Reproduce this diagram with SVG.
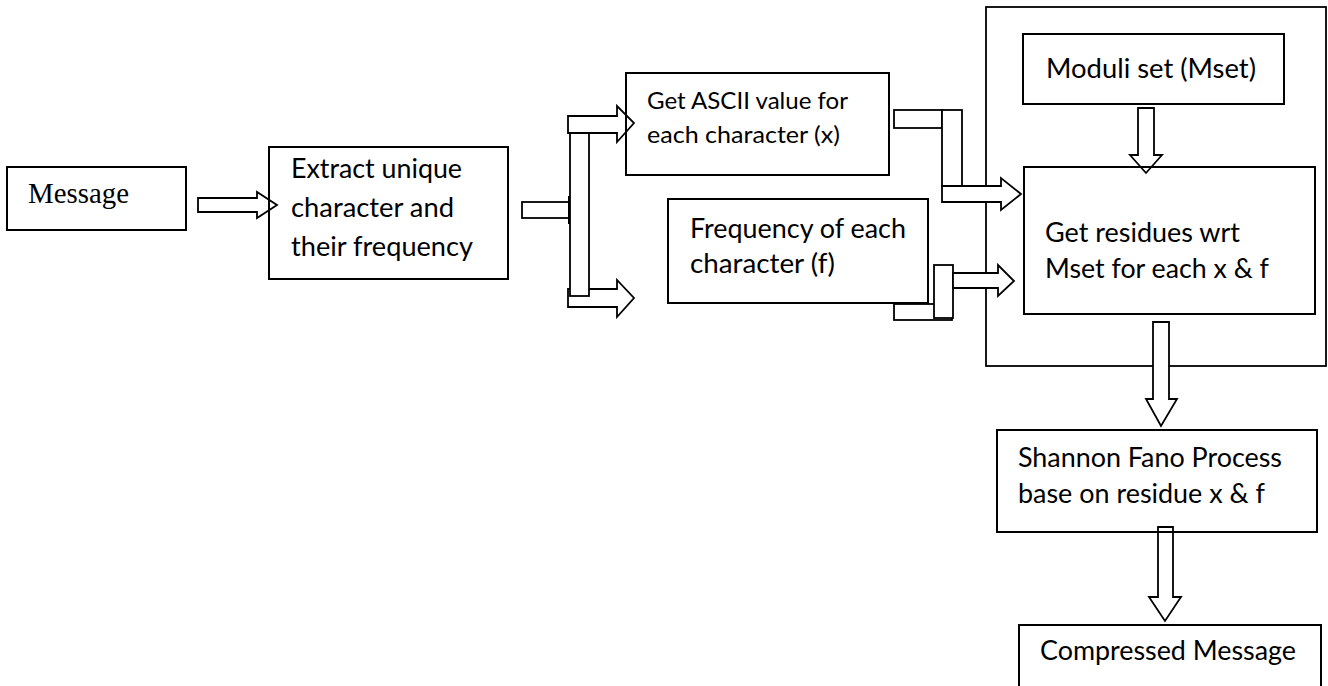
<svg xmlns="http://www.w3.org/2000/svg" width="1328" height="686" viewBox="0 0 1328 686">
<style>
.box{fill:none;stroke:#000;stroke-width:2}
.frame{fill:#fff;stroke:#000;stroke-width:1.8}
.arr{fill:#fff;stroke:#000;stroke-width:1.8;stroke-linejoin:miter}
.t{font-family:Lato,"Liberation Sans",sans-serif;font-size:26px;fill:#000}
.ts{font-size:24px}
.serif{font-family:"Liberation Serif","Times New Roman",serif;font-size:29px;fill:#000}
</style>
<rect width="1328" height="686" fill="#fff"/>
<g id="outer-frame">
<rect class="frame" x="986" y="7" width="340" height="359"/>
</g>
<g id="connectors">
<polygon class="arr" points="198,198 257,198 257,192 277,205 257,218 257,212 198,212"/>
<rect class="arr" x="522" y="202" width="47" height="16"/>
<line x1="569.5" y1="196" x2="569.5" y2="224" stroke="#000" stroke-width="3"/>
<polygon class="arr" points="568,289 617,289 617,280 634,298 617,317 617,307 568,307"/>
<rect class="arr" x="570" y="125" width="19" height="171"/>
<polygon class="arr" points="568,116 617,116 617,106 634,123 617,142 617,133 568,133"/>
<rect class="arr" x="894" y="110" width="48" height="18"/>
<rect class="arr" x="942" y="110" width="20" height="76"/>
<polygon class="arr" points="942,186 1001,186 1001,178 1021,194 1001,210 1001,202 942,202"/>
<rect class="arr" x="894" y="304" width="58" height="16"/>
<rect class="arr" x="934" y="265" width="19" height="53"/>
<polygon class="arr" points="953,273 998,273 998,265 1014,281 998,296 998,288 953,288"/>
<polygon class="arr" points="1138,108 1154,108 1154,155 1162,155 1146,173 1130,155 1138,155"/>
<polygon class="arr" points="1153,322 1169,322 1169,399 1177,399 1161,426 1146,399 1153,399"/>
<polygon class="arr" points="1158,527 1173,527 1173,597 1181,597 1165,621 1149,597 1158,597"/>
</g>
<g id="message">
<rect class="box" x="7" y="167" width="179" height="63"/>
<text class="serif" x="28" y="203" textLength="101" lengthAdjust="spacingAndGlyphs">Message</text>
</g>
<g id="extract">
<rect class="box" x="269" y="147" width="239" height="132"/>
<text class="t" x="291" y="178" textLength="171" lengthAdjust="spacingAndGlyphs">Extract unique</text>
<text class="t" x="291" y="217" textLength="163" lengthAdjust="spacingAndGlyphs">character and</text>
<text class="t" x="291" y="256" textLength="182" lengthAdjust="spacingAndGlyphs">their frequency</text>
</g>
<g id="ascii">
<rect class="box" x="626" y="73" width="263" height="102"/>
<text class="t ts" x="647" y="109" textLength="201" lengthAdjust="spacingAndGlyphs">Get ASCII value for</text>
<text class="t ts" x="647" y="143" textLength="193" lengthAdjust="spacingAndGlyphs">each character (x)</text>
</g>
<g id="frequency">
<rect class="box" x="668" y="199" width="260" height="104"/>
<text class="t" x="690" y="238" textLength="216" lengthAdjust="spacingAndGlyphs">Frequency of each</text>
<text class="t" x="690" y="273" textLength="145" lengthAdjust="spacingAndGlyphs">character (f)</text>
</g>
<g id="moduli">
<rect class="box" x="1023" y="34" width="261" height="70"/>
<text class="t" x="1046" y="78" textLength="210" lengthAdjust="spacingAndGlyphs">Moduli set (Mset)</text>
</g>
<g id="residues">
<rect class="box" x="1024" y="167" width="291" height="147"/>
<text class="t" x="1045" y="242" textLength="195" lengthAdjust="spacingAndGlyphs">Get residues wrt</text>
<text class="t" x="1045" y="278" textLength="224" lengthAdjust="spacingAndGlyphs">Mset for each x &amp; f</text>
</g>
<g id="shannon">
<rect class="box" x="997" y="430" width="320" height="102"/>
<text class="t" x="1018" y="467" textLength="264" lengthAdjust="spacingAndGlyphs">Shannon Fano Process</text>
<text class="t" x="1018" y="503" textLength="247" lengthAdjust="spacingAndGlyphs">base on residue x &amp; f</text>
</g>
<g id="compressed">
<rect class="box" x="1019" y="625" width="302" height="80"/>
<text class="t" x="1040" y="660" textLength="256" lengthAdjust="spacingAndGlyphs">Compressed Message</text>
</g>
</svg>
